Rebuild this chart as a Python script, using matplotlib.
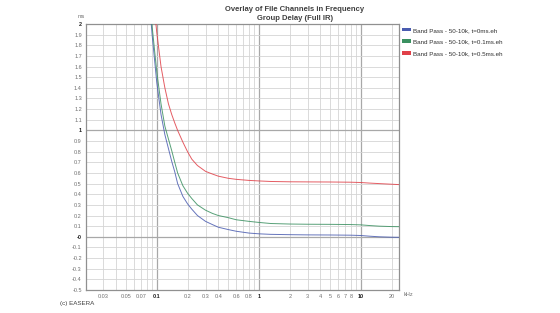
import numpy as np
import matplotlib
matplotlib.use('Agg')
import matplotlib.pyplot as plt
from matplotlib.patches import Patch
from matplotlib.ticker import FixedLocator, NullFormatter

plt.rcParams['font.family'] = ['Liberation Sans', 'DejaVu Sans']

# frequency in kHz, group delay in ms
freq = [0.085, 0.09, 0.1, 0.11, 0.12, 0.13, 0.14, 0.15, 0.16, 0.18, 0.2,
        0.22, 0.25, 0.3, 0.35, 0.4, 0.5, 0.6, 0.8, 1.0, 1.3, 2, 3, 5, 8,
        10, 12, 15, 20, 24]
gd_0ms = [2.2, 1.9, 1.45, 1.15, 0.96, 0.83, 0.71, 0.61, 0.50, 0.38, 0.31,
          0.26, 0.20, 0.145, 0.115, 0.09, 0.068, 0.052, 0.035, 0.028, 0.023,
          0.02, 0.018, 0.017, 0.015, 0.012, 0.006, 0.0, -0.004, -0.005]
gd_01ms = [2.25, 1.98, 1.55, 1.25, 1.04, 0.92, 0.81, 0.70, 0.60, 0.48, 0.41,
           0.36, 0.30, 0.25, 0.22, 0.20, 0.18, 0.16, 0.145, 0.135, 0.125,
           0.12, 0.118, 0.117, 0.115, 0.112, 0.106, 0.10, 0.096, 0.095]
gd_05ms = [2.6, 2.35, 1.92, 1.6, 1.4, 1.25, 1.15, 1.07, 1.0, 0.89, 0.80,
           0.73, 0.67, 0.615, 0.59, 0.57, 0.55, 0.54, 0.53, 0.525, 0.52,
           0.517, 0.516, 0.515, 0.513, 0.51, 0.505, 0.50, 0.494, 0.49]

names = ['Band Pass - 50-10k, t=0ms.eh',
         'Band Pass - 50-10k, t=0.1ms.eh',
         'Band Pass - 50-10k, t=0.5ms.eh']
colors = ['#4a5cb0', '#3a9060', '#e04048']

xlabels = [0.03, 0.05, 0.07, 0.1, 0.2, 0.3, 0.4, 0.6, 0.8, 1, 2, 3, 4, 5,
           6, 7, 8, 10, 20]

fig = plt.figure(figsize=(5.6, 3.13), dpi=100)
ax = fig.add_axes([0.1536, 0.0735, 0.559, 0.8498])

for vals, c in zip([gd_0ms, gd_01ms, gd_05ms], colors):
    ax.plot(freq, vals, color=c, linewidth=0.7, alpha=0.85, zorder=3)

ax.set_xscale('log')
ax.set_xlim(0.0203, 23.5)
ax.set_ylim(-0.5, 2.0)

# grid lines
minor_x = [m * d for d in [0.01, 0.1, 1, 10] for m in range(2, 10)]
minor_x = [v for v in minor_x if 0.0203 < v < 23.5]
for v in minor_x:
    ax.axvline(v, color='#d4d4d4', linewidth=0.6, zorder=1)
for v in [0.1, 1, 10]:
    ax.axvline(v, color='#a8a8a8', linewidth=0.9, zorder=1)
for v in np.arange(-0.5, 2.01, 0.1):
    v = round(v, 1)
    if v in (0.0, 1.0):
        ax.axhline(v, color='#a8a8a8', linewidth=0.9, zorder=1)
    else:
        ax.axhline(v, color='#d4d4d4', linewidth=0.6, zorder=1)

for s in ax.spines.values():
    s.set_color('#909090')
    s.set_linewidth(0.9)

ax.xaxis.set_major_locator(FixedLocator(xlabels))
ax.xaxis.set_minor_formatter(NullFormatter())
ax.set_xticklabels([('%g' % v) for v in xlabels])
yt = [round(v, 1) for v in np.arange(-0.5, 2.01, 0.1)]
ax.set_yticks(yt)
ax.set_yticklabels([('%g' % v) for v in yt])
ax.tick_params(axis='both', which='both', length=0, labelsize=4,
               labelcolor='#707070', pad=3)
for lab, v in zip(ax.get_xticklabels(), xlabels):
    if v in (0.1, 1, 10):
        lab.set_color('#202020')
        lab.set_fontweight('bold')
for lab, v in zip(ax.get_yticklabels(), yt):
    if v in (0.0, 1.0, 2.0):
        lab.set_color('#202020')
        lab.set_fontweight('bold')

fig.text(81 / 560, 1 - 17 / 313, 'ms', fontsize=4, color='#707070',
         ha='center', va='center')
fig.text(404 / 560, 1 - 294 / 313, 'kHz', fontsize=4, color='#707070',
         ha='left', va='center')

fig.text(295 / 560, 1 - 14 / 313,
         'Overlay of File Channels in Frequency\nGroup Delay (Full IR)',
         fontsize=5.5, fontweight='bold', color='#404040',
         ha='center', va='center', linespacing=1.4)

handles = [Patch(facecolor=c, edgecolor='none') for c in colors]
ax.legend(handles, names, loc='upper left', bbox_to_anchor=(1.003, 0.995),
          frameon=False, fontsize=4.5, handlelength=1.3, handleheight=0.5,
          handletextpad=0.4, labelspacing=1.05, borderaxespad=0,
          labelcolor='#303030')

fig.text(60 / 560, 1 - 304 / 313, '(c) EASERA', fontsize=4.5,
         color='#404040', ha='left', va='center')

fig.savefig('out.png', dpi=100)
